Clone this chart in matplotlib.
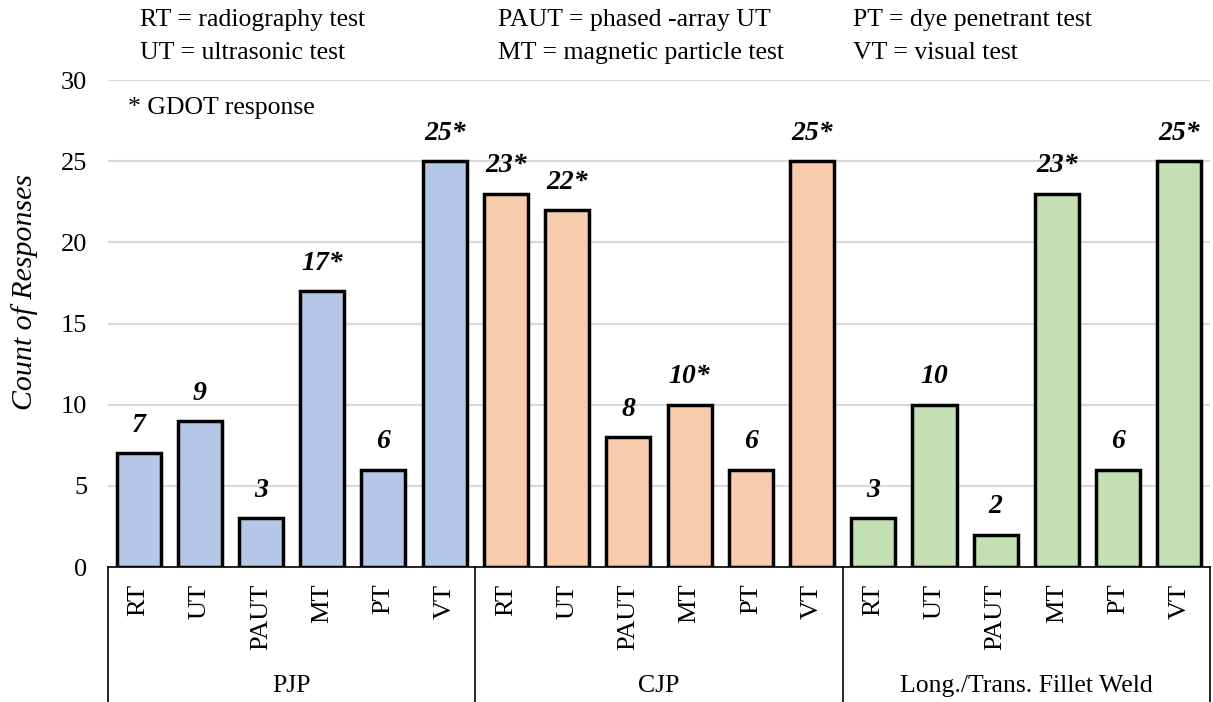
import numpy as np
import matplotlib.pyplot as plt
from matplotlib.lines import Line2D

plt.rcParams['font.family'] = ['Liberation Serif', 'DejaVu Serif']

groups = ["PJP", "CJP", "Long./Trans. Fillet Weld"]
tests = ["RT", "UT", "PAUT", "MT", "PT", "VT"]
pjp = [7, 9, 3, 17, 6, 25]
cjp = [23, 22, 8, 10, 6, 25]
fillet = [3, 10, 2, 23, 6, 25]
pjp_lbl = ["7", "9", "3", "17*", "6", "25*"]
cjp_lbl = ["23*", "22*", "8", "10*", "6", "25*"]
fillet_lbl = ["3", "10", "2", "23*", "6", "25*"]
colors = ["#B4C7E7", "#F8CBAD", "#C5E0B4"]

legend_rows = [
    ["RT = radiography test", "PAUT = phased -array UT", "PT = dye penetrant test"],
    ["UT = ultrasonic test", "MT = magnetic particle test", "VT = visual test"],
]

fig = plt.figure(figsize=(12.13, 7.02), dpi=100)
ax = fig.add_axes([0.089, 0.1923, 0.9085, 0.6937])

n = len(tests)
for g, (vals, lbls) in enumerate(zip([pjp, cjp, fillet], [pjp_lbl, cjp_lbl, fillet_lbl])):
    x = np.arange(n) + g * n
    ax.bar(x, vals, width=0.72, color=colors[g], edgecolor="black", linewidth=2.5, zorder=3)
    for xi, v, l in zip(x, vals, lbls):
        ax.annotate(l, (xi, v), xytext=(0, 20), textcoords="offset points",
                    ha="center", va="center", fontsize=20,
                    fontweight="bold", fontstyle="italic")

ax.set_xlim(-0.5, 3 * n - 0.5)
ax.set_ylim(0, 30)
ax.set_yticks(range(0, 31, 5))
ax.yaxis.grid(True, color="#D9D9D9", linewidth=1.5, zorder=0)
ax.tick_params(axis="y", length=0, labelsize=19, pad=15)
ax.set_xticks(np.arange(3 * n))
ax.set_xticklabels(tests * 3, rotation=90, fontsize=19)
ax.tick_params(axis="x", length=0, pad=12)
for s in ["top", "right", "left"]:
    ax.spines[s].set_visible(False)
ax.spines["bottom"].set_linewidth(1.2)
ax.set_ylabel("Count of Responses", fontsize=21.5, fontstyle="italic")
ax.yaxis.set_label_coords((38 / 1213 - 0.089) / 0.9085, 0.565)

# group separators and group labels under the axis
for k in range(4):
    xs = -0.5 + k * n
    ax.add_line(Line2D([xs, xs], [0, -8.3], color="black", linewidth=1.2, clip_on=False))
for g, name in enumerate(groups):
    ax.text(g * n + (n - 1) / 2, -7.35, name, ha="center", va="center", fontsize=18.5)

ax.text(0.018, 0.943, "* GDOT response", transform=ax.transAxes, fontsize=18.5, va="center")

col_x = [140, 498, 853]
row_y = [20, 53]
for r, row in enumerate(legend_rows):
    for c, t in enumerate(row):
        fig.text(col_x[c] / 1213, 1 - row_y[r] / 702, t, fontsize=18.5, va="center")

fig.savefig("out.png", dpi=100)
